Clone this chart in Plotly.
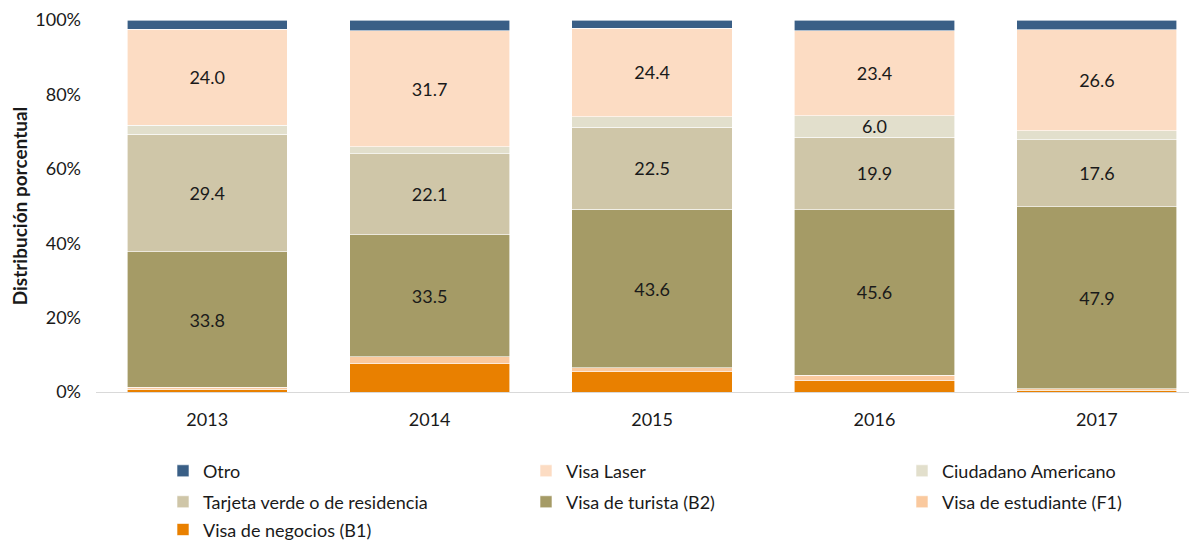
import plotly.graph_objects as go

years = ["2013", "2014", "2015", "2016", "2017"]

negocios = [0.7, 7.7, 5.6, 3.1, 0.4]
estudiante = [0.5, 1.9, 1.0, 1.5, 0.5]
turista = [33.8, 33.5, 43.6, 45.6, 47.9]
tarjeta = [29.4, 22.1, 22.5, 19.9, 17.6]
ciudadano = [2.2, 1.9, 2.8, 6.0, 2.4]
laser = [24.0, 31.7, 24.4, 23.4, 26.6]
otro = [2.3, 3.0, 2.2, 2.9, 2.6]

y_ticks = [0, 20, 40, 60, 80, 100]
y_ticktext = ["0%", "20%", "40%", "60%", "80%", "100%"]

# (name, values, colour, show labels)
series = [
    ("Visa de negocios (B1)", negocios, "#E98000", False),
    ("Visa de estudiante (F1)", estudiante, "#FAC99E", False),
    ("Visa de turista (B2)", turista, "#A59B66", True),
    ("Tarjeta verde o de residencia", tarjeta, "#CFC6A8", True),
    ("Ciudadano Americano", ciudadano, "#E2DFCC", True),
    ("Visa Laser", laser, "#FCDCC3", True),
    ("Otro", otro, "#3A5F86", False),
]

FONT = "Lato, Carlito, Calibri, sans-serif"
FS = 18

# page geometry (the page body has an 8px margin)
OFF = 8
PLOT_L, PLOT_R, PLOT_T, PLOT_B = 96, 1197, 20, 392.5
PW = PLOT_R - PLOT_L
PH = PLOT_B - PLOT_T

def px(pix):
    return (pix - PLOT_L) / PW

def py(pix):
    return (PLOT_B - pix) / PH

# legend slots: left edges and row centres (page pixels)
cols = [163, 526, 902]
rows = [471.7, 502.7, 530.5]
legend_order = ["Otro", "Visa Laser", "Ciudadano Americano", "Tarjeta verde o de residencia",
                "Visa de turista (B2)", "Visa de estudiante (F1)", "Visa de negocios (B1)"]

fig = go.Figure()
layout_legends = {}
for name, vals, color, show in series:
    idx = legend_order.index(name)
    key = "legend" if idx == 0 else f"legend{idx + 1}"
    labels = [f"{v:.1f}" if (show and v >= 5) else "" for v in vals]
    fig.add_trace(go.Bar(
        name=name, x=years, y=vals, legend=key,
        marker=dict(color=color, line=dict(color="white", width=0.6)),
        text=labels, textposition="inside", insidetextanchor="middle",
        textangle=0, textfont=dict(size=FS, color="#1a1a1a", family=FONT),
        hoverinfo="skip",
    ))
    layout_legends[key] = dict(
        orientation="h", x=px(cols[idx % 3]), xanchor="left",
        y=py(rows[idx // 3]), yanchor="middle",
        font=dict(size=FS, family=FONT, color="#1a1a1a"), itemwidth=30,
        bgcolor="rgba(0,0,0,0)",
    )

fig.update_layout(
    barmode="stack", barnorm="percent", bargap=0.28,
    width=1197 - OFF, height=542 - OFF,
    margin=dict(l=PLOT_L - OFF, r=0, t=PLOT_T - OFF, b=542 - PLOT_B, autoexpand=False),
    paper_bgcolor="white", plot_bgcolor="white",
    font=dict(family=FONT, size=FS, color="#1a1a1a"),
    uniformtext=dict(minsize=FS, mode="show"),
    showlegend=True,
    **layout_legends,
)
fig.update_xaxes(
    range=[-0.5, 4.45], showline=True, linecolor="#D9D9D9", linewidth=1,
    ticks="", ticklabelstandoff=11, tickfont=dict(size=FS),
)
fig.update_yaxes(
    range=[0, 100], tickvals=y_ticks, ticktext=y_ticktext,
    showgrid=False, zeroline=False, showline=False, ticks="",
    ticklabelstandoff=14, tickfont=dict(size=FS),
    title=dict(text="<b>Distribución porcentual</b>", font=dict(size=19), standoff=8),
)

fig.write_html("out.html")
